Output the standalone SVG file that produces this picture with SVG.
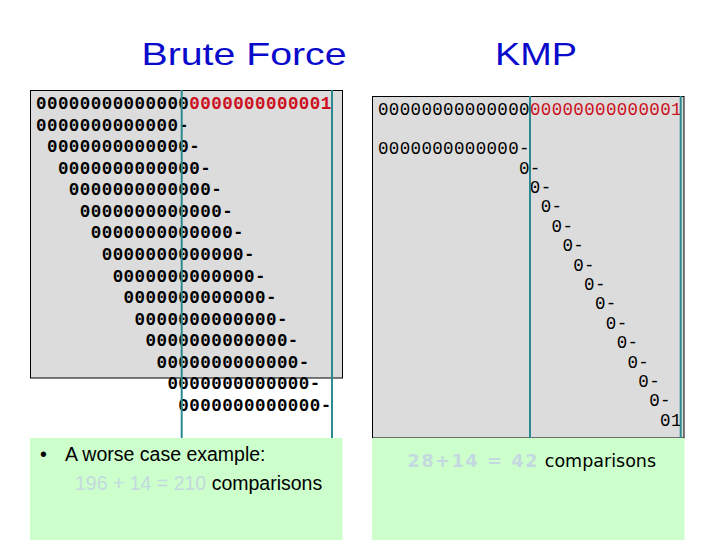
<svg xmlns="http://www.w3.org/2000/svg" width="720" height="540" viewBox="0 0 720 540">
<style>
.title{font-family:"Liberation Sans",Arial,sans-serif;font-size:32px;fill:#0a0acc}
.box{fill:#dcdcdc;stroke:#000;stroke-width:1}
.note{fill:#ccffcc}
.guide{stroke:#2a8a8f;stroke-width:2}
.bf{font-family:"Liberation Mono","DejaVu Sans Mono",monospace;font-size:17.5px;font-weight:bold;letter-spacing:0.45px;fill:#000}
.km{font-family:"Liberation Mono","DejaVu Sans Mono",monospace;font-size:17.5px;letter-spacing:0.35px;fill:#000}
.red{fill:#cc1020}
.txt{font-family:"Liberation Sans",Arial,sans-serif;font-size:19.5px;fill:#000}
.txt2{font-family:"DejaVu Sans",Verdana,sans-serif;font-size:17.5px;fill:#000}
.light{fill:#c3d9df}
</style>
<rect width="720" height="540" fill="#fff"/>
<g id="titles">
<text class="title" x="141.5" y="65" textLength="205" lengthAdjust="spacingAndGlyphs">Brute Force</text>
<text class="title" x="495" y="65" textLength="82" lengthAdjust="spacingAndGlyphs">KMP</text>
</g>
<g id="brute-force">
<rect class="box" x="30.5" y="90.5" width="312" height="287.5"/>
<g class="bf">
<text x="36" y="109">00000000000000<tspan class="red">0000000000001</tspan></text>
<text x="36" y="130.6">0000000000000-</text>
<text x="46.95" y="152.1">0000000000000-</text>
<text x="57.9" y="173.7">0000000000000-</text>
<text x="68.85" y="195.3">0000000000000-</text>
<text x="79.8" y="216.9">0000000000000-</text>
<text x="90.75" y="238.4">0000000000000-</text>
<text x="101.7" y="260">0000000000000-</text>
<text x="112.65" y="281.6">0000000000000-</text>
<text x="123.6" y="303.1">0000000000000-</text>
<text x="134.55" y="324.7">0000000000000-</text>
<text x="145.5" y="346.3">0000000000000-</text>
<text x="156.45" y="367.8">0000000000000-</text>
<text x="167.4" y="389.4">0000000000000-</text>
<text x="178.35" y="411">0000000000000-</text>
</g>
<rect class="note" x="30" y="438" width="312.5" height="102"/>
<text class="txt" x="40" y="461">•</text>
<text class="txt" x="65" y="461">A worse case example:</text>
<text class="txt" x="75" y="490"><tspan class="light">196 + 14 = 210</tspan> comparisons</text>
</g>
<g id="kmp">
<rect class="box" x="372.5" y="96.5" width="311.5" height="341.5"/>
<g class="km">
<text x="378" y="115">00000000000000<tspan class="red">00000000000001</tspan></text>
<text x="378" y="154">0000000000000-</text>
<text x="519" y="173.5">0-</text>
<text x="529.85" y="192.9">0-</text>
<text x="540.7" y="212.3">0-</text>
<text x="551.55" y="231.7">0-</text>
<text x="562.4" y="251.1">0-</text>
<text x="573.25" y="270.5">0-</text>
<text x="584.1" y="289.9">0-</text>
<text x="594.95" y="309.3">0-</text>
<text x="605.8" y="328.7">0-</text>
<text x="616.65" y="348.1">0-</text>
<text x="627.5" y="367.5">0-</text>
<text x="638.35" y="386.9">0-</text>
<text x="649.2" y="406.3">0-</text>
<text x="660.05" y="425.7">01</text>
</g>
<rect class="note" x="372" y="438" width="312.5" height="102"/>
<text class="txt2" x="407.5" y="467"><tspan class="light" font-weight="bold" textLength="130">28+14 = 42</tspan> comparisons</text>
</g>
<g id="connectors">
<line class="guide" x1="181.7" y1="90" x2="181.7" y2="438"/>
<line class="guide" x1="332" y1="90" x2="332" y2="438"/>
<line class="guide" x1="530" y1="96" x2="530" y2="438"/>
<line class="guide" x1="680.7" y1="96" x2="680.7" y2="438"/>
</g>
</svg>
